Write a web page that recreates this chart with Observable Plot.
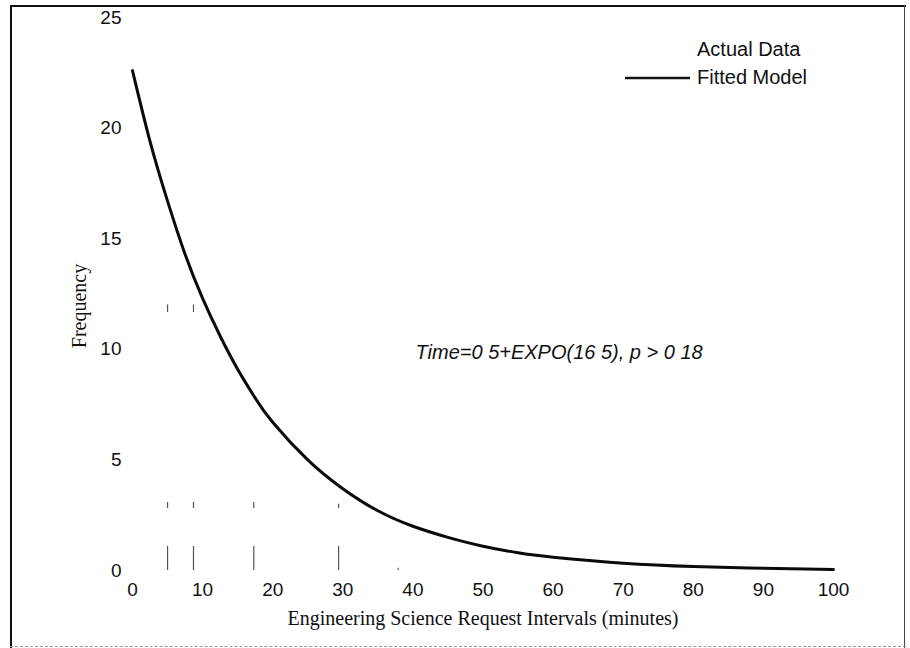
<!DOCTYPE html>
<html>
<head>
<meta charset="utf-8">
<script src="https://cdn.jsdelivr.net/npm/d3@7"></script>
<script src="https://cdn.jsdelivr.net/npm/@observablehq/plot@0.6"></script>
<style>
  html, body { margin: 0; padding: 0; background: #fff; }
  #chart { position: relative; width: 910px; height: 648px; overflow: hidden; }
  #chart svg { position: absolute; left: 0; top: 0; }
  .edge { position: absolute; background: #111; }
</style>
</head>
<body>
<div id="chart">
  <div class="edge" style="left:10px; top:5px; width:896px; height:2px;"></div>
  <div class="edge" style="left:10px; top:5px; width:2px; height:643px;"></div>
  <div class="edge" style="left:904px; top:5px; width:1px; height:643px; background:#444;"></div>
  <div class="edge" style="left:10px; top:646px; width:896px; height:0; background:none; border-top:1px dashed #999;"></div>
</div>
<script>
// Histogram of observed request intervals (bin edges in minutes, counts)
const binLo = [5.0, 8.7, 17.3, 29.4];
const binHi = [8.7, 17.3, 29.4, 37.9];
const binCount = [12, 5, 3, 0.1];

// Fitted exponential model, sampled along the interval axis
const modelX = [0, 2.5, 5, 7.5, 10, 12.5, 15, 17.5, 20, 25, 30, 35, 40, 45, 50, 55, 60, 70, 80, 90, 100];
const modelY = [22.6, 19.4, 16.7, 14.3, 12.3, 10.6, 9.1, 7.8, 6.7, 5.0, 3.7, 2.7, 2.0, 1.5, 1.1, 0.8, 0.6, 0.33, 0.18, 0.1, 0.05];

// Axis ticks and text
const xTicks = [0, 10, 20, 30, 40, 50, 60, 70, 80, 90, 100];
const yTicks = [0, 5, 10, 15, 20, 25];
const xTitle = "Engineering Science Request Intervals (minutes)";
const yTitle = "Frequency";
const legendLabels = ["Actual Data", "Fitted Model"];
const noteText = "Time=0 5+EXPO(16 5), p > 0 18";

const bins = binLo.map((lo, i) => ({lo, hi: binHi[i], count: binCount[i]}));
const model = modelX.map((x, i) => ({x, y: modelY[i]}));

// Vertical outline of each histogram bar: an edge is as tall as the taller neighbour
const edges = [];
bins.forEach((b, i) => {
  const prev = i > 0 ? bins[i - 1].count : 0;
  edges.push({x: b.lo, top: Math.max(prev, b.count)});
});
edges.push({x: bins[bins.length - 1].hi, top: bins[bins.length - 1].count});

const serif = "'Liberation Serif', 'DejaVu Serif', serif";
const sans = "'Liberation Sans', Arial, sans-serif";

// Legend drawn inside the upper right of the frame
function legend(index, scales, values, dimensions) {
  const right = dimensions.width - dimensions.marginRight;
  const top = dimensions.marginTop;
  const g = d3.create("svg:g")
    .attr("font-family", sans).attr("font-size", 20)
    .attr("fill", "#111").attr("text-anchor", "start");
  g.append("text").attr("x", right - 136).attr("y", top + 32).attr("dy", "0.35em").text(legendLabels[0]);
  g.append("line")
    .attr("x1", right - 208).attr("x2", right - 143)
    .attr("y1", top + 61).attr("y2", top + 61)
    .attr("stroke", "#111").attr("stroke-width", 2.5);
  g.append("text").attr("x", right - 136).attr("y", top + 60).attr("dy", "0.35em").text(legendLabels[1]);
  return g.node();
}

const chart = Plot.plot({
  width: 910,
  height: 648,
  marginLeft: 132,
  marginRight: 77,
  marginTop: 17,
  marginBottom: 78,
  style: {fontFamily: sans, fontSize: "19px", color: "#111", background: "transparent", overflow: "visible"},
  x: {domain: [0, 100], ticks: xTicks, tickSize: 0, tickPadding: 12, label: null},
  y: {domain: [0, 25], ticks: yTicks, tickSize: 0, tickPadding: 11, label: null},
  marks: [
    Plot.ruleX(edges, {
      x: "x", y1: 0, y2: "top",
      stroke: "#555", strokeWidth: 1.2, strokeDasharray: "24,38,6,190,10"
    }),
    Plot.line(model, {x: "x", y: "y", curve: "natural", stroke: "#0a0a0a", strokeWidth: 3}),
    Plot.text([noteText], {
      frameAnchor: "top-left", dx: 283, dy: 335, textAnchor: "start", lineAnchor: "middle",
      fontStyle: "italic", fontSize: 20, fontFamily: sans, fill: "#111"
    }),
    Plot.text([xTitle], {
      frameAnchor: "bottom", dy: 48, lineAnchor: "middle",
      fontFamily: serif, fontSize: 20, fill: "#111"
    }),
    Plot.text([yTitle], {
      frameAnchor: "left", dx: -53, dy: 12, rotate: -90, textAnchor: "middle", lineAnchor: "middle",
      fontFamily: serif, fontSize: 20, fill: "#111"
    }),
    legend
  ]
});

document.getElementById("chart").appendChild(chart);
</script>
</body>
</html>
